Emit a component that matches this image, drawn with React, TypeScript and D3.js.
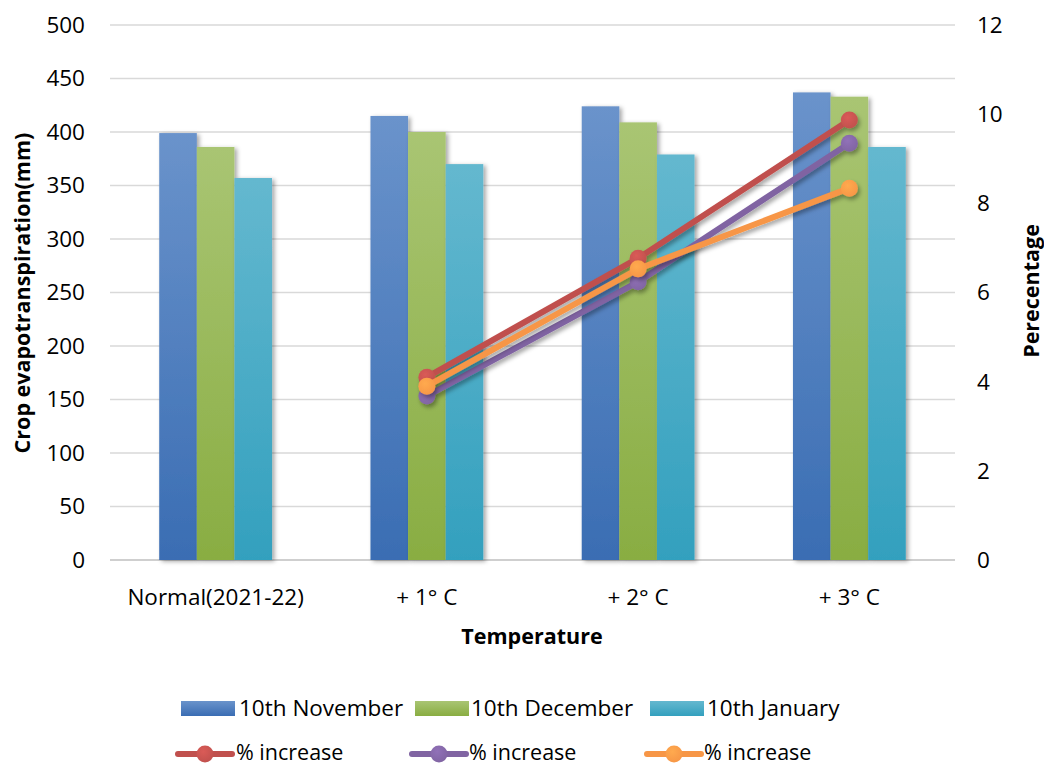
import React from "react";
import * as d3 from "d3";

const categories = ["Normal(2021-22)", "+ 1° C", "+ 2° C", "+ 3° C"];
const barSeries = ["10th November", "10th December", "10th January"];
const novValues = [399, 415, 424, 437];
const decValues = [386, 400, 409, 433];
const janValues = [357, 370, 379, 386];
const lineCategories = ["+ 1° C", "+ 2° C", "+ 3° C"];
const redPct = [4.1, 6.77, 9.87];
const purplePct = [3.68, 6.24, 9.35];
const orangePct = [3.9, 6.53, 8.34];
const leftTicks = [0, 50, 100, 150, 200, 250, 300, 350, 400, 450, 500];
const rightTicks = [0, 2, 4, 6, 8, 10, 12];

const barColors = [
  { id: "gBlue", top: "#6A93CB", bottom: "#3A6DB3" },
  { id: "gGreen", top: "#A9C573", bottom: "#89AD42" },
  { id: "gCyan", top: "#64B8CF", bottom: "#33A0BE" },
];
const lineColors = ["#C0504D", "#8064A2", "#F79646"];
const lineData = [redPct, purplePct, orangePct];

const FONT = "'Open Sans', 'Noto Sans', sans-serif";
const FS = 22.5;
const TFS = 21.5;

export default function App() {
  const W = 1044, H = 766;
  const x = d3.scaleBand<string>().domain(categories).range([110, 955]);
  const yL = d3.scaleLinear().domain([0, 500]).range([560, 25]);
  const yR = d3.scaleLinear().domain([0, 12]).range([560, 25]);
  const barW = x.bandwidth() * 0.178;
  const inner = d3.scaleBand<string>().domain(barSeries).range([0, barW * 3]);
  const groupOff = (x.bandwidth() - barW * 3) / 2;
  const barVals = [novValues, decValues, janValues];
  const line = d3
    .line<number>()
    .x((_, i) => (x(lineCategories[i]) as number) + x.bandwidth() / 2)
    .y((d) => yR(d));

  const legendBars = [
    { sx: 181, tx: 239 },
    { sx: 415, tx: 471 },
    { sx: 650, tx: 707 },
  ];
  const legendLines = [
    { sx: 178, tx: 236 },
    { sx: 412, tx: 469 },
    { sx: 647, tx: 704 },
  ];

  return (
    <svg
      width={W}
      height={H}
      style={{ position: "absolute", left: 0, top: 0, background: "#fff" }}
      fontFamily={FONT}
    >
      <defs>
        {barColors.map((c) => (
          <linearGradient key={c.id} id={c.id} x1="0" y1="0" x2="0" y2="1">
            <stop offset="0%" stopColor={c.top} />
            <stop offset="100%" stopColor={c.bottom} />
          </linearGradient>
        ))}
        <filter id="shadow" x="-20%" y="-20%" width="140%" height="140%">
          <feDropShadow dx="2.5" dy="1.5" stdDeviation="2" floodColor="#000" floodOpacity="0.35" />
        </filter>
        <filter id="lshadow" x="-20%" y="-20%" width="140%" height="140%">
          <feDropShadow dx="2" dy="3" stdDeviation="2" floodColor="#000" floodOpacity="0.35" />
        </filter>
        {lineColors.map((c, i) => (
          <radialGradient key={i} id={"m" + i} cx="40%" cy="35%" r="70%">
            <stop offset="0%" stopColor={d3.color(c)!.brighter(0.35).formatHex()} />
            <stop offset="100%" stopColor={c} />
          </radialGradient>
        ))}
      </defs>

      {/* gridlines */}
      {leftTicks.map((t) => (
        <line key={t} x1={110} x2={955} y1={yL(t)} y2={yL(t)} stroke={t === 0 ? "#BFBFBF" : "#D9D9D9"} strokeWidth={1.3} />
      ))}

      {/* left tick labels */}
      {leftTicks.map((t) => (
        <text key={t} x={85} y={yL(t)} dy="0.35em" textAnchor="end" fontSize={FS} fill="#000">
          {t}
        </text>
      ))}
      {/* right tick labels */}
      {rightTicks.map((t) => (
        <text key={t} x={977} y={yR(t)} dy="0.35em" textAnchor="start" fontSize={FS} fill="#000">
          {t}
        </text>
      ))}

      {/* bars */}
      {categories.map((c, ci) => (
        <g key={c}>
          {barSeries.map((s, si) => {
            const v = barVals[si][ci];
            const bx = (x(c) as number) + groupOff + (inner(s) as number);
            return (
              <rect
                key={s}
                x={bx}
                y={yL(v)}
                width={inner.bandwidth()}
                height={yL(0) - yL(v)}
                fill={`url(#${barColors[si].id})`}
                filter="url(#shadow)"
              />
            );
          })}
        </g>
      ))}

      {/* lines */}
      {lineData.map((d, li) => (
        <g key={li} filter="url(#lshadow)">
          <path d={line(d) as string} fill="none" stroke={lineColors[li]} strokeWidth={6} strokeLinecap="round" />
          {d.map((v, i) => (
            <circle
              key={i}
              cx={(x(lineCategories[i]) as number) + x.bandwidth() / 2}
              cy={yR(v)}
              r={8.5}
              fill={`url(#m${li})`}
            />
          ))}
        </g>
      ))}

      {/* category labels */}
      {categories.map((c) => (
        <text key={c} x={(x(c) as number) + x.bandwidth() / 2} y={597} dy="0.35em" textAnchor="middle" fontSize={FS} fill="#000">
          {c}
        </text>
      ))}

      {/* axis titles */}
      <text x={532} y={636} dy="0.35em" textAnchor="middle" fontSize={TFS} fontWeight="bold" fill="#000">
        Temperature
      </text>
      <text
        transform={`translate(22,293) rotate(-90)`}
        dy="0.35em"
        textAnchor="middle"
        fontSize={TFS}
        fontWeight="bold"
        fill="#000"
      >
        Crop evapotranspiration(mm)
      </text>
      <text
        transform={`translate(1031,291) rotate(-90)`}
        dy="0.35em"
        textAnchor="middle"
        fontSize={TFS}
        fontWeight="bold"
        fill="#000"
      >
        Perecentage
      </text>

      {/* legend row 1 */}
      {barSeries.map((s, i) => (
        <g key={s}>
          <rect x={legendBars[i].sx} y={701} width={54} height={15} fill={`url(#${barColors[i].id})`} />
          <text x={legendBars[i].tx} y={708} dy="0.35em" fontSize={FS} fill="#000">
            {s}
          </text>
        </g>
      ))}
      {/* legend row 2 */}
      {lineColors.map((c, i) => (
        <g key={i}>
          <line x1={legendLines[i].sx} x2={legendLines[i].sx + 54} y1={754} y2={754} stroke={c} strokeWidth={6} strokeLinecap="round" />
          <circle cx={legendLines[i].sx + 27} cy={754} r={8.5} fill={`url(#m${i})`} />
          <text x={legendLines[i].tx} y={752} dy="0.35em" fontSize={21.5} fill="#000">
            % increase
          </text>
        </g>
      ))}
    </svg>
  );
}
